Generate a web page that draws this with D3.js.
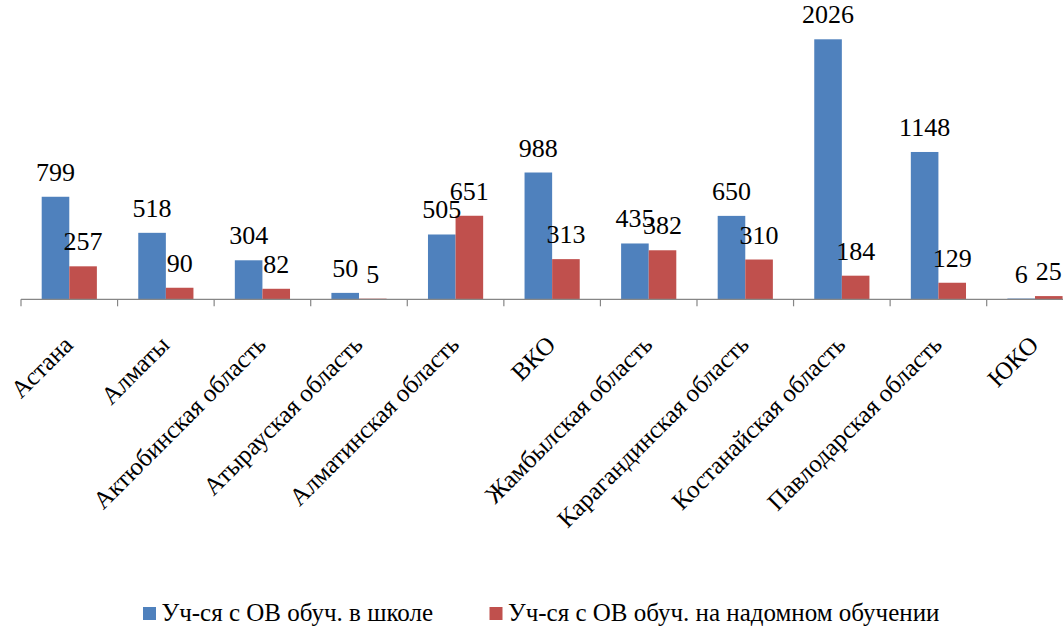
<!DOCTYPE html>
<html>
<head>
<script src="https://cdn.jsdelivr.net/npm/d3@7"></script>
<style>
  svg text { font-family: "Liberation Serif" !important; }
</style>
</head>
<body style="margin:0">
<div id="chart"></div>
<script>
const categories = ["Астана", "Алматы", "Актюбинская область", "Атырауская область", "Алматинская область",
    "ВКО", "Жамбылская область", "Карагандинская область", "Костанайская область", "Павлодарская область", "ЮКО"]
const seriesNames = ["Уч-ся с ОВ обуч. в школе", "Уч-ся с ОВ обуч. на надомном обучении"]
const schoolValues = [799, 518, 304, 50, 505, 988, 435, 650, 2026, 1148, 6]
const homeValues = [257, 90, 82, 5, 651, 313, 382, 310, 184, 129, 25]
const colors = ["#4F81BD", "#C0504D"]

const width = 1063, height = 627
const baseY = 299.3, step = 96.57, left = 21
const serif = '"Liberation Serif"'

const svg = d3.select("#chart").append("svg").attr("width", width).attr("height", height)

const x = d3.scaleBand().domain(categories).range([left, left + step * categories.length])
const x1 = d3.scaleBand().domain(seriesNames).range([0, x.bandwidth()]).paddingOuter(0.75)
const y = d3.scaleLinear().domain([0, 2026]).range([baseY, 39.3])

// one item per bar
const bars = categories.flatMap((c, i) => [
    { cat: c, s: seriesNames[0], v: schoolValues[i], k: 0 },
    { cat: c, s: seriesNames[1], v: homeValues[i], k: 1 }
])
const barX = d => x(d.cat) + x1(d.s)

svg.selectAll("rect.bar").data(bars).join("rect").attr("class", "bar")
    .attr("x", barX)
    .attr("y", d => y(d.v))
    .attr("width", x1.bandwidth())
    .attr("height", d => baseY - y(d.v))
    .attr("fill", d => colors[d.k])

// value labels, appended straight to the svg
svg.selectAll("text.val").data(bars).join("text").attr("class", "val")
    .attr("x", d => barX(d) + x1.bandwidth() / 2)
    .attr("y", d => y(d.v) - 16)
    .attr("text-anchor", "middle")
    .style("font-family", serif)
    .attr("font-size", 26)
    .text(d => d.v)

// category axis
svg.append("line").attr("x1", left).attr("x2", width).attr("y1", baseY).attr("y2", baseY)
    .attr("stroke", "#868686").attr("stroke-width", 1.2)
svg.selectAll("line.tick").data(categories).join("line").attr("class", "tick")
    .attr("x1", d => x(d)).attr("x2", d => x(d))
    .attr("y1", baseY).attr("y2", baseY + 7)
    .attr("stroke", "#868686").attr("stroke-width", 1.2)

svg.selectAll("text.cat").data(categories).join("text").attr("class", "cat")
    .attr("transform", d => `translate(${x(d) + x.bandwidth() / 2 + 5},${baseY + 47}) rotate(-45)`)
    .attr("text-anchor", "end")
    .style("font-family", serif)
    .attr("font-size", 25)
    .text(d => d)

// legend
const legendX = [143, 489.5]
svg.selectAll("rect.key").data(seriesNames).join("rect").attr("class", "key")
    .attr("x", (d, i) => legendX[i]).attr("y", 607)
    .attr("width", 13).attr("height", 13).attr("fill", (d, i) => colors[i])
svg.selectAll("text.key").data(seriesNames).join("text").attr("class", "key")
    .attr("x", (d, i) => legendX[i] + 18.5).attr("y", 620.5)
    .style("font-family", serif).attr("font-size", 25).text(d => d)
</script>
</body>
</html>
